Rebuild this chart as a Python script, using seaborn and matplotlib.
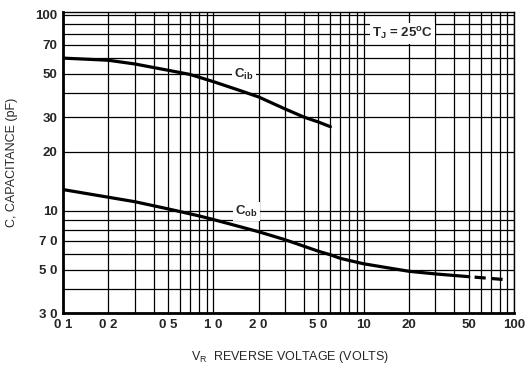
import numpy as np
import pandas as pd
import seaborn as sns
import matplotlib.pyplot as plt
from matplotlib.ticker import FixedLocator, LogLocator, NullFormatter

# values
vr_ib = [0.1, 0.2, 0.3, 0.5, 0.7, 1.0, 1.5, 2.0, 3.0, 4.0, 5.0, 6.0]
c_ib = [60, 58.5, 56, 52, 49.5, 45.5, 41, 38, 33, 30, 28.3, 26.8]

vr_ob = [0.1, 0.2, 0.3, 0.5, 0.8, 1.0, 2.0, 3.0, 5.0, 6.0, 7.0, 10, 20, 30, 50]
c_ob = [12.8, 11.7, 11.1, 10.2, 9.4, 9.0, 7.8, 7.1, 6.2, 5.95, 5.7, 5.35, 4.9, 4.75, 4.6]

vr_ob_ext = [50, 85]
c_ob_ext = [4.6, 4.45]

x_ticks = [0.1, 0.2, 0.5, 1, 2, 5, 10, 20, 50, 100]
x_labels = ["0 1", "0 2", "0 5", "1 0", "2 0", "5 0", "10", "20", "50", "100"]
y_ticks = [3, 5, 7, 10, 20, 30, 50, 70, 100]
y_labels = ["3 0", "5 0", "7 0", "10", "20", "30", "50", "70", "100"]

sns.set_style("white")
plt.rcParams['font.family'] = ['Liberation Sans Narrow', 'Liberation Sans', 'DejaVu Sans']

fig = plt.figure(figsize=(5.3, 3.67), dpi=100)
ax = fig.add_axes([0.119, 0.147, 0.851, 0.820])

ax.set_xscale('log')
ax.set_yscale('log')
ax.set_xlim(0.1, 100)
ax.set_ylim(3, 103)

# grid: every 1..9 step in each decade
ax.xaxis.set_major_locator(FixedLocator(x_ticks))
ax.xaxis.set_minor_locator(LogLocator(base=10, subs=np.arange(1, 10)))
ax.yaxis.set_major_locator(FixedLocator(y_ticks))
ax.yaxis.set_minor_locator(LogLocator(base=10, subs=np.arange(1, 10)))
ax.xaxis.set_minor_formatter(NullFormatter())
ax.yaxis.set_minor_formatter(NullFormatter())
ax.grid(which='both', color='black', linewidth=0.9)
ax.set_axisbelow(True)

ax.set_xticklabels(x_labels, fontsize=9.5, fontweight='bold')
ax.set_yticklabels(y_labels, fontsize=9.5, fontweight='bold')
ax.tick_params(which='both', length=0, pad=4)

sns.lineplot(x=vr_ib, y=c_ib, ax=ax, color='black', linewidth=2.3)
sns.lineplot(x=vr_ob, y=c_ob, ax=ax, color='black', linewidth=2.3)
sns.lineplot(x=vr_ob_ext, y=c_ob_ext, ax=ax, color='black', linewidth=2.3,
             linestyle=(3.5, (3.5, 1.8)))

box = dict(facecolor='white', edgecolor='none', pad=1.5)
ax.text(1.6, 49.5, r"C$_\mathregular{ib}$", fontsize=9.5, fontweight='bold',
        ha='center', va='center', bbox=box)
ax.text(1.65, 9.9, r"C$_\mathregular{ob}$", fontsize=9.5, fontweight='bold',
        ha='center', va='center', bbox=box)
ax.text(18, 80, r"T$_\mathregular{J}$ = 25$^\mathregular{o}$C", fontsize=9.5,
        fontweight='bold', ha='center', va='center', bbox=box)

ax.set_xlabel(r"V$_\mathregular{R}$  REVERSE VOLTAGE (VOLTS)", fontsize=9)
ax.set_ylabel("C, CAPACITANCE (pF)", fontsize=9)
ax.xaxis.set_label_coords(0.503, -0.118)
ax.yaxis.set_label_coords(-0.10, 0.5)

for side in ['left', 'bottom']:
    ax.spines[side].set_linewidth(2.0)
for side in ['top', 'right']:
    ax.spines[side].set_linewidth(1.0)
for s in ax.spines.values():
    s.set_color('black')

plt.savefig('out.png', dpi=100)
